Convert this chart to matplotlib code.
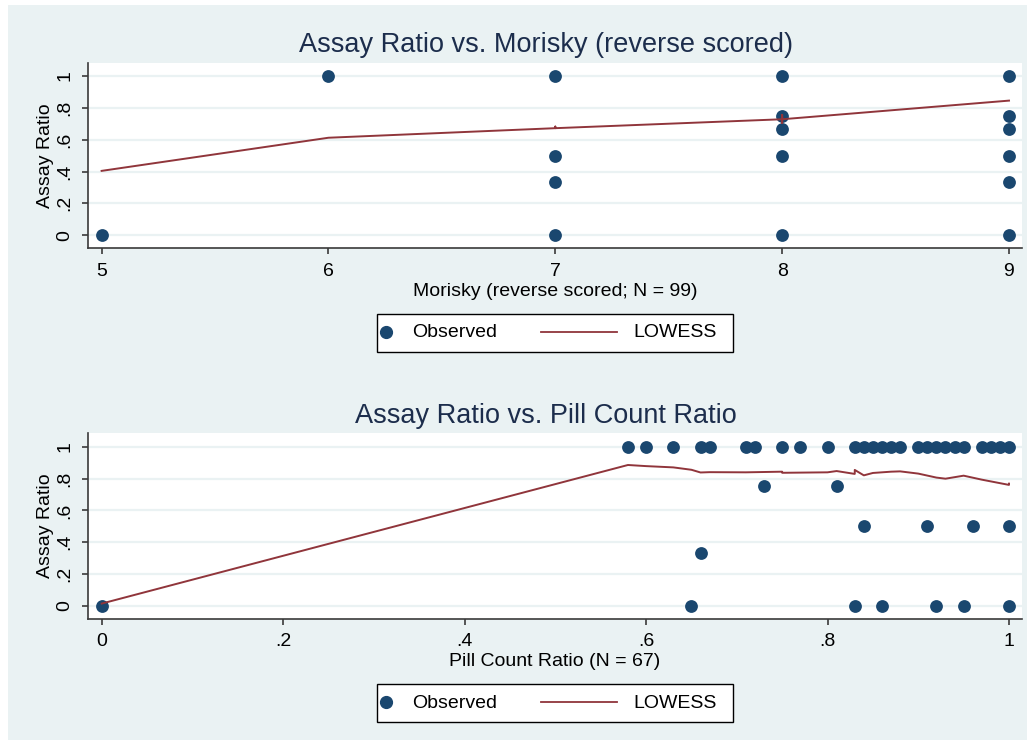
import matplotlib
matplotlib.use("Agg")
import matplotlib.pyplot as plt
from matplotlib.patches import Rectangle
from matplotlib.lines import Line2D

plt.rcParams['font.family'] = ['Liberation Sans', 'DejaVu Sans']

# Colors (Stata s2color look)
BG = '#EAF2F3'
NAVY = '#1A476F'
MAROON = '#90353B'
TITLE_C = '#1C2D4C'
AXIS_C = '#3A3A3A'

# Top panel: Assay ratio vs Morisky
morisky_x = [5, 6, 7, 7, 7, 7, 8, 8, 8, 8, 8, 9, 9, 9, 9, 9, 9]
morisky_y = [0, 1, 1, 0.5, 0.333, 0, 1, 0.75, 0.667, 0.5, 0, 1, 0.75, 0.667, 0.5, 0.333, 0]
morisky_low_x = [5, 6, 7, 7, 7, 8, 8, 8, 8, 9]
morisky_low_y = [0.404, 0.612, 0.672, 0.682, 0.672, 0.728, 0.755, 0.705, 0.728, 0.845]

# Bottom panel: Assay ratio vs pill count ratio
pill_x_1 = [0.58, 0.60, 0.63, 0.66, 0.67, 0.71, 0.72, 0.75, 0.77, 0.80, 0.83, 0.84, 0.85,
            0.86, 0.87, 0.88, 0.90, 0.91, 0.92, 0.93, 0.94, 0.95, 0.97, 0.98, 0.99, 1.0]
pill_x_075 = [0.73, 0.81]
pill_x_05 = [0.84, 0.91, 0.96, 1.0]
pill_x_033 = [0.66]
pill_x_0 = [0, 0.65, 0.83, 0.86, 0.92, 0.95, 1.0]
pill_x = pill_x_1 + pill_x_075 + pill_x_05 + pill_x_033 + pill_x_0
pill_y = ([1] * len(pill_x_1) + [0.75] * len(pill_x_075) + [0.5] * len(pill_x_05)
          + [0.333] * len(pill_x_033) + [0] * len(pill_x_0))
pill_low_x = [0, 0.58, 0.60, 0.63, 0.65, 0.66, 0.67, 0.71, 0.75, 0.75, 0.80, 0.81, 0.83, 0.83,
              0.84, 0.85, 0.87, 0.88, 0.90, 0.92, 0.93, 0.95, 0.97, 1.0, 1.0]
pill_low_y = [0.015, 0.885, 0.878, 0.870, 0.855, 0.838, 0.840, 0.839, 0.843, 0.836, 0.839, 0.847,
              0.829, 0.854, 0.820, 0.835, 0.843, 0.845, 0.831, 0.806, 0.799, 0.818, 0.793, 0.760, 0.768]

y_ticks = [0, 0.2, 0.4, 0.6, 0.8, 1]
y_labels = ['0', '.2', '.4', '.6', '.8', '1']
pill_ticks = [0, 0.2, 0.4, 0.6, 0.8, 1]
pill_labels = ['0', '.2', '.4', '.6', '.8', '1']
morisky_ticks = [5, 6, 7, 8, 9]

W, H = 1027, 740
FS = 14
fig = plt.figure(figsize=(W / 100, H / 100), dpi=100, facecolor='white')
fig.patches.append(Rectangle((8 / W, 0), 1 - 8 / W, 735 / H, transform=fig.transFigure,
                             facecolor=BG, edgecolor='none', zorder=-10))


def px(x, y):
    return x / W, 1 - y / H


def style_axes(ax, xticks, xlabels, xlabel):
    ax.set_facecolor('white')
    for s in ['top', 'right']:
        ax.spines[s].set_visible(False)
    for s in ['left', 'bottom']:
        ax.spines[s].set_color(AXIS_C)
        ax.spines[s].set_linewidth(1.2)
    ax.set_yticks(y_ticks)
    ax.set_yticklabels(y_labels, rotation=90, va='center')
    ax.set_xticks(xticks)
    ax.set_xticklabels(xlabels)
    ax.tick_params(axis='both', colors=AXIS_C, length=4.5, width=1.2, labelsize=FS,
                   labelcolor='black', direction='out')
    ax.tick_params(axis='y', pad=6)
    ax.tick_params(axis='x', pad=6)
    ax.grid(axis='y', color=BG, linewidth=1.6)
    ax.set_axisbelow(True)
    ax.set_ylabel('Assay Ratio', fontsize=FS, labelpad=2)
    ax.set_xlabel(xlabel, fontsize=FS, labelpad=2)


def draw_legend(top, bottom):
    l, r = 377, 733
    x0, y0 = px(l, bottom)
    fig.patches.append(Rectangle((x0, y0), (r - l) / W, (bottom - top) / H,
                                 transform=fig.transFigure, facecolor='white',
                                 edgecolor='black', linewidth=1.0))
    yc = (top + bottom) / 2
    fig.lines.append(Line2D([386 / W], [1 - (yc - 1) / H], transform=fig.transFigure,
                            marker='o', markersize=8.5, color=NAVY, linestyle='none'))
    fig.text(412 / W, 1 - yc / H, 'Observed', fontsize=FS, va='center', ha='left')
    fig.lines.append(Line2D([541 / W, 617 / W], [1 - (yc - 1) / H, 1 - (yc - 1) / H],
                            transform=fig.transFigure, color=MAROON, linewidth=1.3))
    fig.text(633 / W, 1 - yc / H, 'LOWESS', fontsize=FS, va='center', ha='left')


# top panel
ax1 = fig.add_axes([88 / W, 1 - 248.3 / H, (1021.7 - 88) / W, (248.3 - 62.7) / H])
ax1.scatter(morisky_x, morisky_y, s=85, color=NAVY, zorder=3, linewidths=0)
ax1.plot(morisky_low_x, morisky_low_y, color=MAROON, linewidth=1.4, zorder=4)
ax1.set_xlim(4.94, 9.056)
ax1.set_ylim(-0.082, 1.083)
style_axes(ax1, morisky_ticks, [str(t) for t in morisky_ticks], 'Morisky (reverse scored; N = 99)')
fig.text(546 / W, 1 - 52 / H, 'Assay Ratio vs. Morisky (reverse scored)', fontsize=19.5,
         color=TITLE_C, ha='center', va='baseline')
draw_legend(314, 352)

# bottom panel
ax2 = fig.add_axes([88 / W, 1 - 618.7 / H, (1021.7 - 88) / W, (618.7 - 433.3) / H])
ax2.scatter(pill_x, pill_y, s=85, color=NAVY, zorder=3, linewidths=0)
ax2.plot(pill_low_x, pill_low_y, color=MAROON, linewidth=1.4, zorder=4)
ax2.set_xlim(-0.0151, 1.014)
ax2.set_ylim(-0.080, 1.084)
style_axes(ax2, pill_ticks, pill_labels, 'Pill Count Ratio (N = 67)')
fig.text(546 / W, 1 - 423 / H, 'Assay Ratio vs. Pill Count Ratio', fontsize=19.5,
         color=TITLE_C, ha='center', va='baseline')
draw_legend(684, 722)

fig.savefig('out.png', dpi=100, facecolor=fig.get_facecolor())
